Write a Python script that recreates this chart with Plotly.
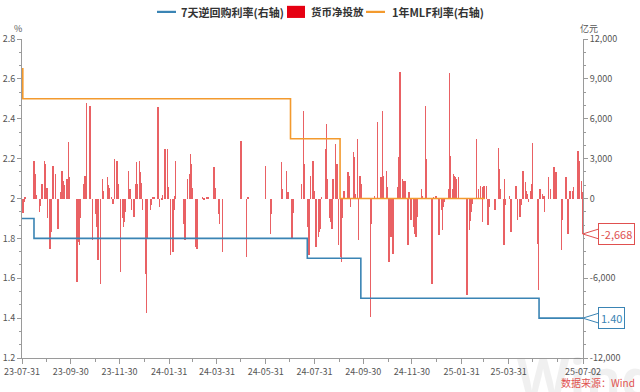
import plotly.graph_objects as go

# ---------------- data ----------------
bar_dates = [
    # 2023
    "2023-07-31", "2023-08-01", "2023-08-02", "2023-08-03", "2023-08-04", "2023-08-15", "2023-08-16", "2023-08-17",
    "2023-08-18", "2023-08-22", "2023-08-23", "2023-08-25", "2023-08-28", "2023-08-29", "2023-08-30", "2023-08-31",
    "2023-09-01", "2023-09-04", "2023-09-05", "2023-09-07", "2023-09-08", "2023-09-11", "2023-09-14", "2023-09-18",
    "2023-09-19", "2023-09-20", "2023-09-21", "2023-09-22", "2023-09-25", "2023-09-26", "2023-09-27", "2023-09-28",
    "2023-10-08", "2023-10-10", "2023-10-11", "2023-10-12", "2023-10-16", "2023-10-18", "2023-10-20", "2023-10-24",
    "2023-10-25", "2023-10-27", "2023-10-31",
    "2023-11-01", "2023-11-03", "2023-11-06", "2023-11-09", "2023-11-10", "2023-11-15", "2023-11-16", "2023-11-17",
    "2023-11-20", "2023-11-21", "2023-11-22", "2023-11-24", "2023-11-27", "2023-11-29",
    "2023-12-01", "2023-12-04", "2023-12-05", "2023-12-06", "2023-12-07", "2023-12-11", "2023-12-13", "2023-12-15",
    "2023-12-18", "2023-12-20", "2023-12-21", "2023-12-22", "2023-12-25", "2023-12-26", "2023-12-27", "2023-12-29",
    # 2024
    "2024-01-02", "2024-01-03", "2024-01-04", "2024-01-08", "2024-01-09", "2024-01-11", "2024-01-12", "2024-01-17",
    "2024-01-18", "2024-01-19", "2024-01-22", "2024-01-23", "2024-01-26", "2024-01-29", "2024-01-30",
    "2024-02-02", "2024-02-05", "2024-02-06", "2024-02-07", "2024-02-08", "2024-02-18", "2024-02-19", "2024-02-20",
    "2024-02-23", "2024-02-26", "2024-02-27", "2024-02-28", "2024-02-29",
    "2024-03-04", "2024-03-05", "2024-03-06", "2024-03-13", "2024-03-15", "2024-03-18", "2024-03-20", "2024-03-27",
    "2024-03-28", "2024-03-29",
    "2024-04-02", "2024-04-03", "2024-04-07", "2024-04-30", "2024-05-07", "2024-05-09", "2024-05-31", "2024-06-06",
    "2024-06-07", "2024-06-20", "2024-06-21", "2024-06-26", "2024-06-27", "2024-06-28",
    "2024-07-03", "2024-07-04", "2024-07-05", "2024-07-15", "2024-07-17", "2024-07-18", "2024-07-23", "2024-07-24",
    "2024-07-26", "2024-07-29", "2024-07-30", "2024-07-31",
    "2024-08-01", "2024-08-02", "2024-08-05", "2024-08-06", "2024-08-07", "2024-08-09", "2024-08-14", "2024-08-15",
    "2024-08-16", "2024-08-19", "2024-08-20", "2024-08-22", "2024-08-23", "2024-08-26", "2024-08-28", "2024-08-30",
    "2024-09-02", "2024-09-03", "2024-09-04", "2024-09-06", "2024-09-11", "2024-09-12", "2024-09-13", "2024-09-14",
    "2024-09-18", "2024-09-19", "2024-09-20", "2024-09-23", "2024-09-24", "2024-09-26", "2024-09-27",
    "2024-10-09", "2024-10-10", "2024-10-14", "2024-10-18", "2024-10-22", "2024-10-24", "2024-10-25", "2024-10-29",
    "2024-10-30",
    "2024-11-01", "2024-11-04", "2024-11-06", "2024-11-07", "2024-11-12", "2024-11-14", "2024-11-15", "2024-11-18",
    "2024-11-20", "2024-11-22", "2024-11-25", "2024-11-26", "2024-11-29",
    "2024-12-02", "2024-12-03", "2024-12-05", "2024-12-06", "2024-12-12", "2024-12-13", "2024-12-17", "2024-12-18",
    "2024-12-25", "2024-12-27", "2024-12-30",
    # 2025
    "2025-01-02", "2025-01-03", "2025-01-06", "2025-01-07", "2025-01-08", "2025-01-10", "2025-01-15", "2025-01-16",
    "2025-01-17", "2025-01-20", "2025-01-21", "2025-01-22", "2025-01-23", "2025-01-24", "2025-01-27",
    "2025-02-06", "2025-02-07", "2025-02-10", "2025-02-11", "2025-02-12", "2025-02-13", "2025-02-19", "2025-02-21",
    "2025-02-24", "2025-02-26", "2025-02-27", "2025-02-28",
    "2025-03-03", "2025-03-05", "2025-03-06", "2025-03-07", "2025-03-14", "2025-03-18", "2025-03-19", "2025-03-21",
    "2025-03-25", "2025-03-26", "2025-03-27",
    "2025-04-01", "2025-04-03", "2025-04-09", "2025-04-11", "2025-04-14", "2025-04-16", "2025-04-17", "2025-04-18",
    "2025-04-21", "2025-04-22", "2025-04-23", "2025-04-25", "2025-04-28", "2025-04-29", "2025-04-30",
    "2025-05-06", "2025-05-07", "2025-05-09", "2025-05-12", "2025-05-14", "2025-05-15", "2025-05-20", "2025-05-22",
    "2025-05-26", "2025-05-27", "2025-05-29", "2025-05-30",
    "2025-06-05", "2025-06-06", "2025-06-11", "2025-06-13", "2025-06-16", "2025-06-19", "2025-06-20", "2025-06-25",
    "2025-06-26", "2025-06-27", "2025-06-30", "2025-07-01", "2025-07-02",
]

net_injection = [  # 亿元
    # 2023
    -800, -1100, -600, -300, 150, 2850, 1850, 900,
    300, -1000, -600, 1100, 2850, 2600, 800, 800,
    -1500, -3775, -2500, 600, 2475, 1850, -2275, 500,
    2100, 1000, 1350, 1000, 1500, 1500, 4225, 1600,
    -6275, -3275, -3500, -1500, 1100, 1725, 7175, 6975,
    5350, -3150, -1150,
    -2150, -4650, -6400, 1475, 600, 1600, 1000, 800,
    100, -400, -400, 2975, 2850, 1100,
    -5525, -1500, -2150, -1800, -1000, 2100, 725, -900,
    -1400, 1100, 2725, 1100, 2850, 2000, 1200, -900,
    # 2024
    -5650, -8650, -3000, -900, -500, 100, 50, 6850,
    350, -650, -150, 250, 3725, 3725, 850,
    -4275, -4025, -900, 225, 2850, -900, -1900, -3150,
    1475, 1850, 3350, 2600, 800,
    -2400, -3650, -3775, 100, -50, 50, 100, 2350,
    1475, 800,
    -1150, -1900, -4025, 4350, -4400, 50, 2475, -2650,
    -1150, 2725, 725, 2100, 350, 500,
    -3025, -1100, -500, 1100, 6600, 2600, -2150, -4275,
    1725, 2850, 2350, 600,
    -2150, -3650, -2900, -2525, -2275, 100, 3725, 5600,
    1500, -1500, -1800, -2275, 1475, 4100, 2600, -3525,
    -4400, -4775, -1500, 600, 1975, 1725, 1350, -650,
    3475, 3100, 350, 4475, -3150, 1725, 1100,
    -8900, -1900, 225, 5725, 1600, 6600, 1725, 2100,
    850,
    -4775, -2900, -4150, -3150, 850, 3100, 9550, 1475,
    1350, 1350, -3525, 475, -1650,
    -2150, -2650, -2900, -1400, 725, 225, 6975, 2975,
    -6450, 100, 225,
    # 2025
    -900, -2775, -900, -2400, -650, -275, 725, 9475,
    3225, 725, 1850, 1725, 1600, 1475, 1600,
    -1100, -7275, -2400, -1700, -1025, -400, 4475, 725,
    975, -1775, 850, 975,
    975, -2025, -1150, -650, -900, 3800, 2225, 725,
    -3525, 1475, -525,
    225, -2525, 975, -1600, -1400, -525, 1475, 2100,
    1225, 600, 350, -275, 600, 1100, 4150,
    -3400, -6900, 725, 350, 225, -1025, 1600, 725,
    1350, 2350, 1975, 600,
    -3900, -1650, 1650, -2650, 600, 600, 850, 1975,
    3600, 2850, 1350, 500, -2668,
]
assert len(bar_dates) == len(net_injection)

rr_dates = ["2023-07-31", "2023-08-15", "2024-07-22", "2024-09-27", "2025-05-08", "2025-07-02"]
rr_rates = [1.9, 1.8, 1.7, 1.5, 1.4, 1.4]

mlf_dates = ["2023-07-31", "2023-08-01", "2023-09-01", "2023-10-01", "2023-11-01", "2023-12-01",
             "2024-01-01", "2024-02-01", "2024-03-01", "2024-04-01", "2024-05-01", "2024-06-01",
             "2024-07-01", "2024-08-01", "2024-09-01", "2024-10-01", "2024-11-01", "2024-12-01",
             "2025-01-01", "2025-02-01", "2025-03-01"]
mlf_rates = [2.65, 2.5, 2.5, 2.5, 2.5, 2.5,
             2.5, 2.5, 2.5, 2.5, 2.5, 2.5,
             2.3, 2.3, 2.0, 2.0, 2.0, 2.0,
             2.0, 2.0, 2.0]

x_tick_dates = ["2023-07-31", "2023-09-30", "2023-11-30", "2024-01-31", "2024-03-31", "2024-05-31",
                "2024-07-31", "2024-09-30", "2024-11-30", "2025-01-31", "2025-03-31", "2025-07-02"]
x_tick_text = ["23-07-31", "23-09-30", "23-11-30", "24-01-31", "24-03-31", "24-05-31",
               "24-07-31", "24-09-30", "24-11-30", "25-01-31", "25-03-31", "25-07-02"]
x_minor_dates = ["2023-08-31", "2023-10-31", "2023-12-31", "2024-02-29", "2024-04-30", "2024-06-30",
                 "2024-08-31", "2024-10-31", "2024-12-31", "2025-02-28", "2025-04-30", "2025-05-31"]

left_ticks = [1.2, 1.4, 1.6, 1.8, 2.0, 2.2, 2.4, 2.6, 2.8]
left_tick_text = ["1.2", "1.4", "1.6", "1.8", "2", "2.2", "2.4", "2.6", "2.8"]
right_ticks = [-12000, -9000, -6000, -3000, 0, 3000, 6000, 9000, 12000]
right_tick_text = ["-12,000", "-9,000", "-6,000", "-3,000", "0", "3,000", "6,000", "9,000", "12,000"]

series_names = ["7天逆回购利率(右轴)", "货币净投放", "1年MLF利率(右轴)"]

# ---------------- style ----------------
BLUE = "#3a84b4"
RED = "#e6464a"
LEGEND_RED = "#e60012"
ORANGE = "#f39a2e"
AXIS = "#9a9a9a"
TXT = "#555555"
SRC_RED = "#e0504f"
FONT = "Noto Sans CJK SC, Noto Sans, sans-serif"

Y_RANGE = [-12000, 12000]
Y2_RANGE = [1.2, 2.8]

fig = go.Figure()
fig.add_trace(go.Scatter(x=rr_dates, y=rr_rates, name=series_names[0], mode="lines",
                         line=dict(color=BLUE, width=1.6, shape="hv"), yaxis="y2"))
fig.add_trace(go.Bar(x=bar_dates, y=net_injection, name=series_names[1],
                     marker=dict(color=RED, line=dict(width=0)), opacity=0.85,
                     width=86400000 * 0.6, yaxis="y"))
fig.add_trace(go.Scatter(x=mlf_dates, y=mlf_rates, name=series_names[2], mode="lines",
                         line=dict(color=ORANGE, width=1.6, shape="hv"), yaxis="y2"))

common_tick = dict(ticks="outside", tickcolor=AXIS, showline=True, linecolor=AXIS, linewidth=1,
                   showgrid=False, zeroline=False, tickfont=dict(size=9, color=TXT, family=FONT),
                   automargin=False)

PLOT_H = 392 - 39 - 34  # plot area height in px

fig.update_layout(
    width=640, height=392,
    margin=dict(l=22, r=57, t=39, b=34),
    paper_bgcolor="white", plot_bgcolor="white",
    font=dict(family=FONT, size=9, color=TXT),
    showlegend=False,
    xaxis=dict(type="date", range=["2023-07-31", "2025-07-02"], tickmode="array",
               tickvals=x_tick_dates, ticktext=x_tick_text, ticklen=5,
               minor=dict(tickmode="array", tickvals=x_minor_dates, ticks="outside",
                          ticklen=3, tickcolor=AXIS),
               **common_tick),
    yaxis=dict(side="right", range=Y_RANGE, tickmode="array",
               tickvals=right_ticks, ticktext=right_tick_text, ticklen=4,
               minor=dict(dtick=1000, tick0=0, ticks="outside", ticklen=2, tickcolor=AXIS),
               **common_tick),
    yaxis2=dict(side="left", overlaying="y", range=Y2_RANGE, tickmode="array",
                tickvals=left_ticks, ticktext=left_tick_text, ticklen=4,
                minor=dict(dtick=0.2 / 3, tick0=1.2, ticks="outside", ticklen=2, tickcolor=AXIS),
                **common_tick),
    bargap=0,
)

# manual legend (paper coordinates)
LEG_Y = 1.085
shapes = [
    dict(type="line", xref="paper", yref="paper", x0=0.2406, x1=0.2745, y0=LEG_Y, y1=LEG_Y,
         line=dict(color=BLUE, width=2.2)),
    dict(type="rect", xref="paper", yref="paper", x0=0.4724, x1=0.5045, y0=LEG_Y - 0.019, y1=LEG_Y + 0.019,
         fillcolor=LEGEND_RED, line=dict(width=0)),
    dict(type="line", xref="paper", yref="paper", x0=0.6132, x1=0.6471, y0=LEG_Y, y1=LEG_Y,
         line=dict(color=ORANGE, width=2.2)),
]


# callouts for the last values: white cover + "<" notch pointing to the right axis, then a boxed label
def callout(value, yref, yrange, color):
    per_px = (yrange[1] - yrange[0]) / PLOT_H
    x_axis, x_box = 1.0036, 1.0285
    shapes.append(dict(type="rect", xref="paper", yref=yref, layer="above",
                       x0=x_axis, x1=x_box, y0=value - 9 * per_px, y1=value + 9 * per_px,
                       fillcolor="white", line=dict(width=0)))
    shapes.append(dict(type="path", xref="paper", yref=yref, layer="above",
                       path=f"M {x_box},{value + 5 * per_px} L {x_axis - 0.004},{value} L {x_box},{value - 5 * per_px}",
                       fillcolor="white", line=dict(color=color, width=1)))


callout(net_injection[-1], "y", Y_RANGE, SRC_RED)
callout(rr_rates[-1], "y2", Y2_RANGE, BLUE)

legend_font = dict(size=11, color="#333333", family=FONT, weight="bold")
annotations = [
    # watermark
    dict(text="<b>Wind</b>", xref="paper", yref="paper", x=1.005, y=-0.06, xanchor="center",
         yanchor="middle", showarrow=False, font=dict(size=54, color="rgba(0,0,0,0.06)", family="Open Sans")),
    dict(text=series_names[0], xref="paper", yref="paper", x=0.2799, y=LEG_Y, xanchor="left",
         yanchor="middle", showarrow=False, font=legend_font),
    dict(text=series_names[1], xref="paper", yref="paper", x=0.5116, y=LEG_Y, xanchor="left",
         yanchor="middle", showarrow=False, font=dict(size=10.5, color="#333333", family=FONT, weight="bold")),
    dict(text=series_names[2], xref="paper", yref="paper", x=0.6560, y=LEG_Y, xanchor="left",
         yanchor="middle", showarrow=False, font=legend_font),
    dict(text="%", xref="paper", yref="paper", x=-0.007, y=1.034, xanchor="center", yanchor="middle",
         showarrow=False, font=dict(size=9, color=TXT)),
    dict(text="亿元", xref="paper", yref="paper", x=1.011, y=1.034, xanchor="center", yanchor="middle",
         showarrow=False, font=dict(size=9, color=TXT)),
    dict(text="数据来源：Wind", xref="paper", yref="paper", x=1.096, y=-0.078, xanchor="right",
         yanchor="middle", showarrow=False, font=dict(size=10, color=SRC_RED)),
    dict(text=f"{net_injection[-1]:,}", xref="paper", yref="y", x=1.0267, y=net_injection[-1],
         xanchor="left", yanchor="middle", showarrow=False,
         bordercolor=SRC_RED, borderwidth=1, borderpad=2, bgcolor="white",
         font=dict(size=11, color=SRC_RED)),
    dict(text=f"{rr_rates[-1]:.2f}", xref="paper", yref="y2", x=1.0267, y=rr_rates[-1],
         xanchor="left", yanchor="middle", showarrow=False,
         bordercolor=BLUE, borderwidth=1, borderpad=2, bgcolor="white",
         font=dict(size=11, color=BLUE)),
]
fig.update_layout(shapes=shapes, annotations=annotations)

# remove the browser's default 8px body margin so the figure fills the window exactly
fig.write_html("out.html", config={"displayModeBar": False},
               post_script="document.body.style.margin='0px';")
